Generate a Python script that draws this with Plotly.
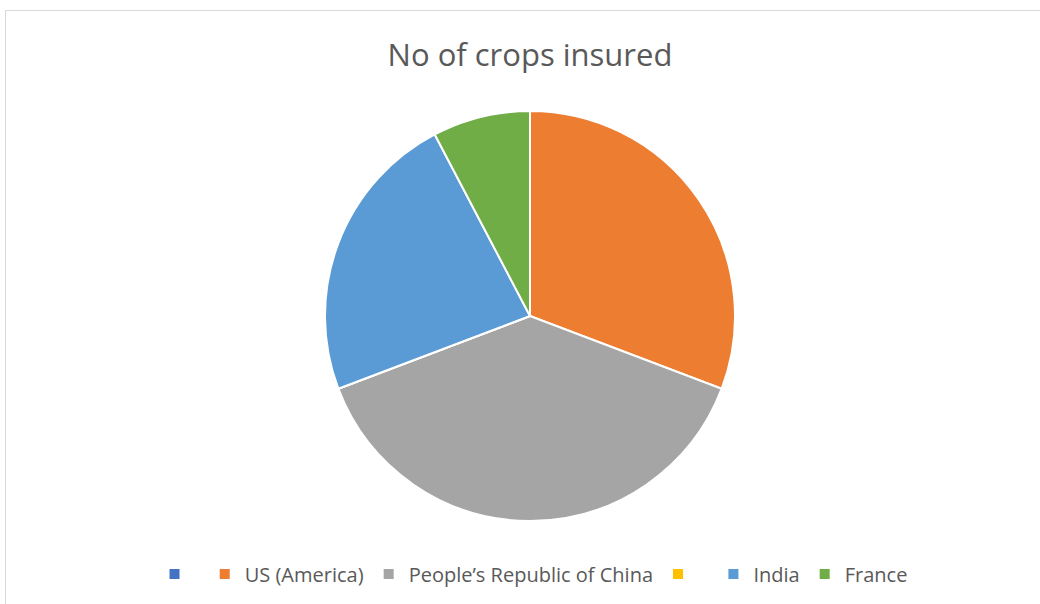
import plotly.graph_objects as go

labels = [" ", "US (America)", "People’s Republic of China", "  ", "India", "France"]
values = [0, 4, 5, 0, 3, 1]
colors = ["#4472C4", "#ED7D31", "#A5A5A5", "#FFC000", "#5B9BD5", "#70AD47"]

W, H = 1040, 604
cx, cy, r = 530, 316, 205

fig = go.Figure(go.Pie(
    labels=labels, values=values, sort=False, direction="clockwise", rotation=0,
    marker=dict(colors=colors, line=dict(color="white", width=2)),
    textinfo="none", hoverinfo="label+value",
    domain=dict(x=[(cx - r) / W, (cx + r) / W], y=[1 - (cy + r) / H, 1 - (cy - r) / H]),
))

fig.update_layout(
    width=W, height=H,
    margin=dict(l=0, r=0, t=0, b=0),
    paper_bgcolor="white", plot_bgcolor="white",
    font=dict(family="Open Sans, Noto Sans, sans-serif", color="#595959"),
    title=dict(text="No of crops insured", x=530 / W, xanchor="center", y=1 - 55 / H, yanchor="middle",
               font=dict(size=31, color="#595959", family="Open Sans, Noto Sans, sans-serif")),
    showlegend=True,
    legend=dict(orientation="h", x=0.513, xanchor="center", y=1 - 574 / H, yanchor="middle",
                font=dict(size=20, color="#595959"), traceorder="normal", itemwidth=30),
    shapes=[
        dict(type="line", xref="paper", yref="paper", x0=5 / W, x1=1, y0=1 - 10.5 / H, y1=1 - 10.5 / H,
             line=dict(color="#D9D9D9", width=1)),
        dict(type="line", xref="paper", yref="paper", x0=5.5 / W, x1=5.5 / W, y0=0, y1=1 - 10 / H,
             line=dict(color="#D9D9D9", width=1)),
    ],
)

fig.write_html("out.html", config={"displayModeBar": False},
               post_script="document.body.style.margin='0';document.body.style.overflow='hidden';")
